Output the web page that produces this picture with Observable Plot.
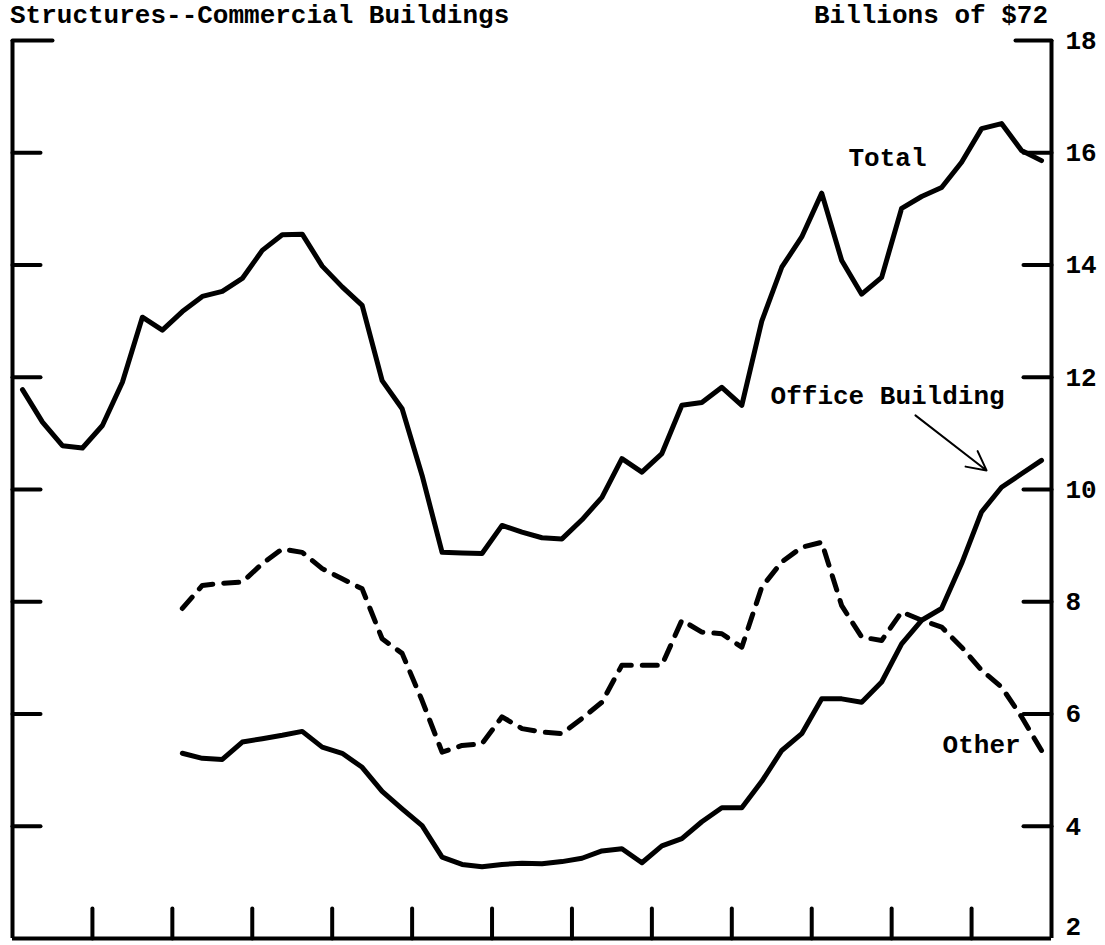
<!DOCTYPE html>
<html>
<head>
<meta charset="utf-8">
<script src="https://cdn.jsdelivr.net/npm/d3@7"></script>
<script src="https://cdn.jsdelivr.net/npm/@observablehq/plot@0.6"></script>
<style>
  body { margin: 0; background: #fff; }
  #wrap { position: relative; width: 1105px; height: 945px; font-family: "Liberation Mono", "DejaVu Sans Mono", monospace; font-weight: bold; font-size: 26px; color: #000; }
  .hdr { position: absolute; top: 3px; line-height: 1; white-space: pre; }
  #wrap svg { position: absolute; left: 0; top: 0; }
</style>
</head>
<body>
<div id="wrap">
  <div class="hdr" style="left:10px">Structures--Commercial Buildings</div>
  <div class="hdr" style="right:57px">Billions of $72</div>
</div>
<script>
// Quarterly series, 13 years = 52 quarters (billions of 1972 dollars)
const totalValues = [
  11.78, 11.20, 10.78, 10.74, 11.14, 11.91, 13.07, 12.84, 13.17, 13.44, 13.53, 13.76, 14.26,
  14.54, 14.55, 13.98, 13.61, 13.28, 11.94, 11.44, 10.25, 8.88, 8.87, 8.86, 9.36, 9.24,
  9.14, 9.12, 9.46, 9.86, 10.55, 10.31, 10.64, 11.50, 11.55, 11.82, 11.50, 13.00, 13.96,
  14.50, 15.28, 14.08, 13.48, 13.78, 15.01, 15.22, 15.38, 15.83, 16.43, 16.52, 16.04, 15.86
];
const componentStart = 8; // first quarter with Office Building / Other data
const officeValues = [
  5.30, 5.21, 5.19, 5.50, 5.56, 5.62, 5.69, 5.41, 5.30, 5.05, 4.62, 4.31, 4.01, 3.45, 3.32,
  3.28, 3.32, 3.34, 3.33, 3.37, 3.43, 3.56, 3.60, 3.35, 3.65, 3.78, 4.08, 4.33, 4.33, 4.80,
  5.35, 5.65, 6.27, 6.27, 6.21, 6.57, 7.25, 7.67, 7.88, 8.68, 9.60, 10.04, 10.28, 10.52
];
const otherValues = [
  7.88, 8.29, 8.33, 8.35, 8.68, 8.94, 8.88, 8.59, 8.41, 8.23, 7.34, 7.08, 6.24, 5.32, 5.44,
  5.47, 5.95, 5.74, 5.68, 5.65, 5.92, 6.21, 6.87, 6.87, 6.87, 7.67, 7.46, 7.43, 7.19, 8.26,
  8.71, 8.97, 9.06, 7.93, 7.37, 7.31, 7.82, 7.67, 7.55, 7.19, 6.78, 6.48, 5.95, 5.35
];
const quarterCount = 52;
const yearTicks = [4, 8, 12, 16, 20, 24, 28, 32, 36, 40, 44, 48]; // year boundaries (quarters)
const yTicks = [4, 6, 8, 10, 12, 14, 16];
const yTop = 18;
const yLabels = [4, 6, 8, 10, 12, 14, 16, 18];
const yBottomLabel = [2];
const seriesLabels = [
  {text: "Total", q: 41.84, v: 15.91},
  {text: "Office Building", q: 37.94, v: 11.67},
  {text: "Other", q: 46.55, v: 5.45}
];
const arrows = [{q1: 45.19, v1: 11.32, q2: 48.75, v2: 10.34}];

const total = totalValues.map((v, i) => ({q: i + 0.5, v}));
const office = officeValues.map((v, i) => ({q: componentStart + i + 0.5, v}));
const other = otherValues.map((v, i) => ({q: componentStart + i + 0.5, v}));

const tickShape = {draw(context, l) { context.moveTo(0, 0); context.lineTo(0, -l); }};
const tickOpts = {anchor: "start", shape: tickShape, strokeWidth: 4, strokeLinecap: "round", stroke: "black"};
const lineOpts = {x: "q", y: "v", stroke: "black", strokeWidth: 5, strokeLinejoin: "round", strokeLinecap: "round"};
const labelOpts = {anchor: "right", tickSize: 0, tickPadding: 14, tickFormat: d => String(d), label: null, fill: "black"};

const chart = Plot.plot({
  width: 1105,
  height: 945,
  marginLeft: 12,
  marginRight: 54,
  marginTop: 40,
  marginBottom: 7,
  x: {domain: [0, quarterCount], axis: null},
  y: {domain: [2, 18], axis: null},
  style: {fontFamily: "'Liberation Mono', 'DejaVu Sans Mono', monospace", fontSize: "26px", fontWeight: "bold", background: "transparent", color: "black"},
  marks: [
    Plot.ruleX([0, quarterCount], {stroke: "black", strokeWidth: 4}),
    Plot.ruleY([2], {stroke: "black", strokeWidth: 4}),
    Plot.vector(yTicks, {y: d => d, frameAnchor: "left", rotate: 90, length: 28, ...tickOpts}),
    Plot.vector([yTop], {y: d => d, frameAnchor: "left", rotate: 90, length: 40, ...tickOpts}),
    Plot.vector(yTicks, {y: d => d, frameAnchor: "right", rotate: -90, length: 28, ...tickOpts}),
    Plot.vector([yTop], {y: d => d, frameAnchor: "right", rotate: -90, length: 36, ...tickOpts}),
    Plot.vector(yearTicks, {x: d => d, frameAnchor: "bottom", rotate: 0, length: 30, ...tickOpts}),
    Plot.axisY(yLabels, labelOpts),
    Plot.axisY(yBottomLabel, {...labelOpts, dy: -12}),
    Plot.line(total, lineOpts),
    Plot.line(office, lineOpts),
    Plot.line(other, {...lineOpts, strokeDasharray: "15,11"}),
    Plot.arrow(arrows, {x1: "q1", y1: "v1", x2: "q2", y2: "v2", stroke: "black", strokeWidth: 2, headLength: 16, headAngle: 55}),
    Plot.text(seriesLabels, {x: "q", y: "v", text: "text", textAnchor: "start", fill: "black", fontSize: 26, fontWeight: "bold"})
  ]
});
document.getElementById("wrap").appendChild(chart);
</script>
</body>
</html>
